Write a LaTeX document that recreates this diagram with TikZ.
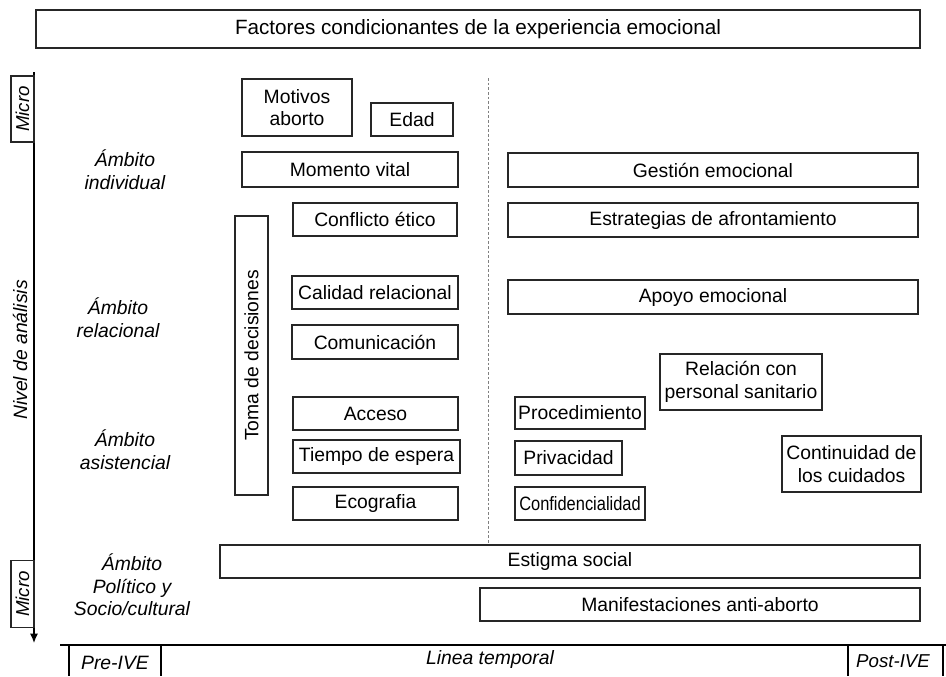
\documentclass[tikz,border=0pt]{standalone}
\usepackage{fontspec}
\setmainfont{Liberation Sans}
\usetikzlibrary{arrows.meta}

\colorlet{box edge}{black!85}
\newcommand\basesize{\fontsize{14.5}{17}\selectfont}
\tikzset{
  fbox/.style={draw=box edge, line width=0.9pt, inner sep=0pt, align=center},
  ambito/.style={font=\basesize\itshape, align=center},
  axislabel/.style={font=\basesize\itshape, rotate=90}
  }

\begin{document}
\begin{tikzpicture}[x=0.75pt, y=-0.75pt, font=\basesize]
    \useasboundingbox (0,0) rectangle (946,676);

    % title
    \node[fbox, minimum width=663pt, minimum height=28.5pt, font=\fontsize{15.5}{18}\selectfont]
      (title) at (478,29) {Factores condicionantes de la experiencia emocional};

    % level axis
    \coordinate (axtop) at (34,72);
    \coordinate (axbot) at (34,643);
    \draw[line width=0.9pt, -{Latex[length=7pt,width=6pt]}] (axtop) -- (axbot);
    \node[fbox, minimum width=49.5pt, minimum height=17.25pt, rotate=90] (microtop) at (22.5,109) {};
    \node[axislabel, font=\fontsize{14}{16}\selectfont\itshape] at (microtop) {Micro};
    \node[fbox, minimum width=50.25pt, minimum height=17.25pt, rotate=90] (microbot) at (22.5,594) {};
    \node[axislabel, font=\fontsize{14}{16}\selectfont\itshape] at (microbot) {Micro};
    \node[axislabel] (nivel) at (20,350) {Nivel de análisis};

    % the four levels
    \foreach \pos/\name/\txt in {{(125,170)/indiv/{Ámbito\\individual}}, {(118,318)/relac/{Ámbito\\relacional}},
      {(125,450)/asist/{Ámbito\\asistencial}}, {(132,585)/socio/{Ámbito\\Político y\\Socio/cultural}}} {
      \node[ambito] (\name) at \pos {\txt};
    }

    % before / after the abortion
    \draw[gray, dash pattern=on 2pt off 1.5pt] (488,78) -- (488,545);

    % the factors
    \foreach \xa/\ya/\xb/\yb/\name/\txt in {
      {242/79/352/136/motivos/{Motivos\\aborto}}, {371/103/453/136/edad/Edad},
      {242/152/458/187/momento/Momento vital}, {293/203/457/236/conflicto/Conflicto ético},
      {292/276/458/309/calidad/Calidad relacional}, {292/325/458/359/comunic/Comunicación},
      {293/397/458/430/acceso/Acceso}, {293/440/460/473/espera/Tiempo de espera},
      {293/487/458/520/ecografia/Ecografia},
      {508/153/918/187/gestion/Gestión emocional}, {508/203/918/237/estrateg/Estrategias de afrontamiento},
      {508/280/918/314/apoyo/Apoyo emocional}, {660/354/822/410/relacion/{Relación con\\personal sanitario}},
      {515/397/645/429/procedim/Procedimiento}, {515/441/622/475/privac/Privacidad},
      {782/436/921/492/continuidad/{Continuidad de\\los cuidados}},
      {220/545/920/578/estigma/Estigma social}, {480/588/920/621/manif/Manifestaciones anti-aborto}} {
      \pgfmathsetmacro\bw{(\xb-\xa)*0.75}
      \pgfmathsetmacro\bh{(\yb-\ya)*0.75}
      \node[fbox, minimum width=\bw pt, minimum height=\bh pt] (\name) at ({(\xa+\xb)/2},{(\ya+\yb)/2}) {\txt};
    }
    % narrower text
    \node[fbox, minimum width=97.5pt, minimum height=24.75pt]
      (confid) at (580,503.5) {\scalebox{0.85}[1]{Confidencialidad}};
    \node[fbox, minimum width=209.25pt, minimum height=24.75pt, rotate=90] (toma) at (251.5,355.5) {Toma de decisiones};

    % time line
    \draw[line width=0.9pt] (60,645) -- (946,645);
    \foreach \x in {69, 161, 848, 943} {
      \draw[line width=0.9pt] (\x,645) -- (\x,676);
    }
    \node[font=\basesize\itshape] (pre) at (115,663) {Pre-IVE};
    \node[font=\basesize\itshape] (linea) at (490,659) {Linea temporal};
    \node[font=\fontsize{14}{17}\selectfont\itshape] (post) at (893,661) {Post-IVE};

\end{tikzpicture}
\end{document}
